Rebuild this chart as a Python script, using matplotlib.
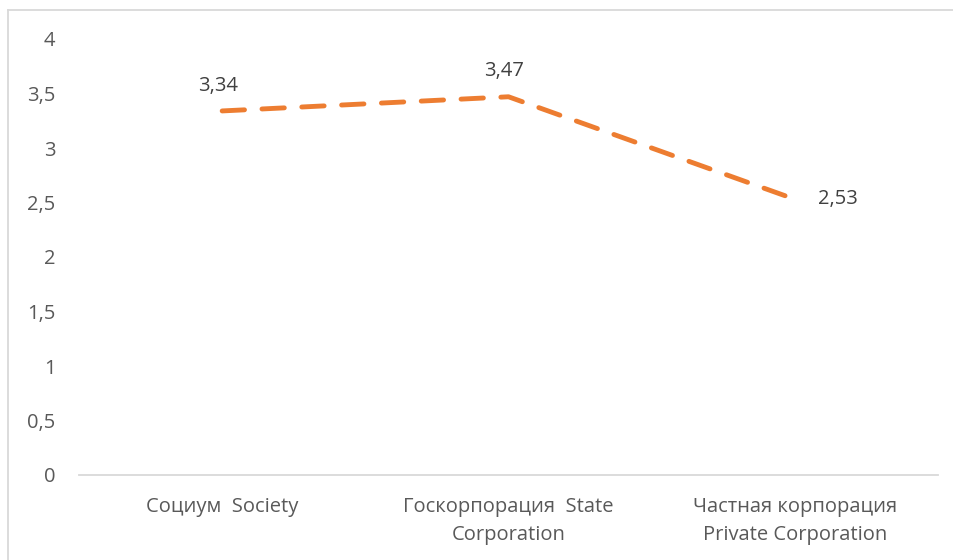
import matplotlib.pyplot as plt
from matplotlib.lines import Line2D

plt.rcParams['font.family'] = ['Open Sans', 'DejaVu Sans']

categories = ["Социум  Society", "Госкорпорация  State\nCorporation", "Частная корпорация\nPrivate Corporation"]
values = [3.34, 3.47, 2.53]
yticks = [0, 0.5, 1, 1.5, 2, 2.5, 3, 3.5, 4]

W, H = 954, 560
fig = plt.figure(figsize=(W / 100, H / 100), dpi=100)
ax = fig.add_axes([79 / W, (H - 475) / H, (938 - 79) / W, (475 - 39) / H])

x = list(range(len(values)))
ax.plot(x, values, color="#ED7D31", lw=3.5, dashes=(4.6, 3.6),
        dash_capstyle="round", solid_capstyle="round")

# data labels
FS = 14.5
label_pos = [("center", "bottom", -3, 11), ("center", "bottom", -3, 11), ("left", "center", 17, 0)]
for xi, v, (ha, va, dx, dy) in zip(x, values, label_pos):
    ax.annotate(f"{v:.2f}".replace(".", ","), (xi, v), xytext=(dx, dy),
                textcoords="offset points", ha=ha, va=va, fontsize=FS, color="#404040")

ax.set_xlim(-0.5, len(values) - 0.5)
ax.set_ylim(0, 4)
ax.set_yticks(yticks)
ax.set_yticklabels([f"{t:g}".replace(".", ",") for t in yticks])
ax.set_xticks(x)
ax.set_xticklabels(categories, linespacing=1.5)
ax.tick_params(axis="both", length=0, labelsize=FS, colors="#595959")
ax.tick_params(axis="y", pad=17)
ax.tick_params(axis="x", pad=16)
for s in ["top", "right", "left"]:
    ax.spines[s].set_visible(False)
ax.spines["bottom"].set_color("#D9D9D9")
ax.spines["bottom"].set_linewidth(1.3)

# chart area border (left and top edges only are visible)
bx, by = 8.5 / W, 1 - 9.5 / H
fig.add_artist(Line2D([bx, bx], [0, by], transform=fig.transFigure, color="#D9D9D9", lw=1.3))
fig.add_artist(Line2D([bx, 1], [by, by], transform=fig.transFigure, color="#D9D9D9", lw=1.3))

fig.savefig("out.png", dpi=100)
